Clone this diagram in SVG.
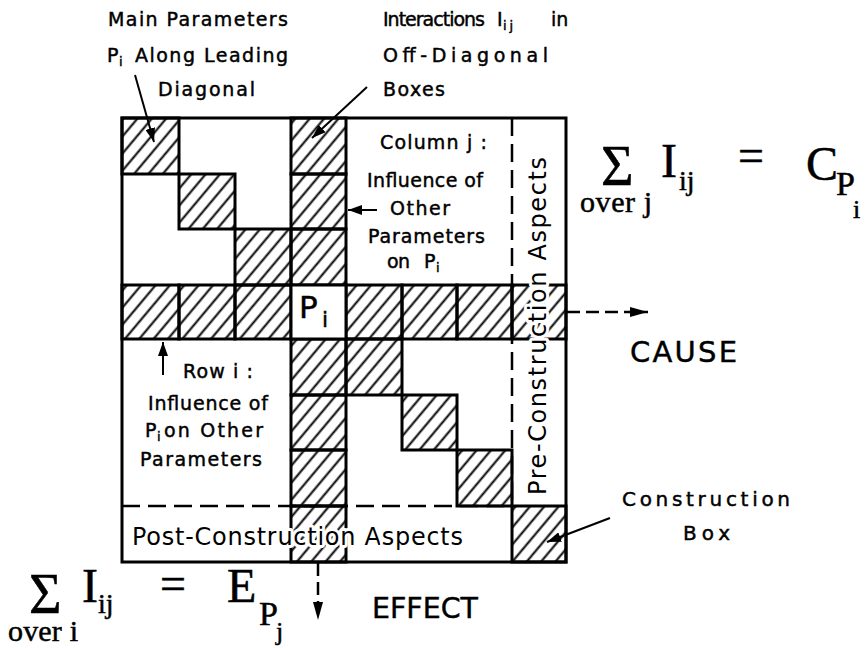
<svg xmlns="http://www.w3.org/2000/svg" width="867" height="648" viewBox="0 0 867 648">
<style>
.lbl{font-family:"DejaVu Sans","Liberation Sans",sans-serif;font-size:19px;fill:#000;stroke:#000;stroke-width:0.45}
.sub{font-size:13px}
.big{font-size:24px;stroke:#fff;stroke-width:6;paint-order:stroke;stroke-linejoin:round}
.huge{font-size:29px}
.math{font-family:"Liberation Serif","Times New Roman",serif;fill:#000;stroke:#000;stroke-width:0.5}
.cell{fill:url(#hatch);stroke:#000;stroke-width:3}
.pcell{fill:#fff;stroke:#000;stroke-width:3}
.dash{stroke:#000;stroke-width:2.5;stroke-dasharray:18 8;fill:none}
.conn{stroke:#000;stroke-width:2;fill:none}
.dconn{stroke:#000;stroke-width:2.5;fill:none;stroke-dasharray:13 6}
</style>
<defs>
<pattern id="hatch" patternUnits="userSpaceOnUse" width="11" height="11" patternTransform="rotate(40)">
<line x1="5.5" y1="-2" x2="5.5" y2="13" stroke="#000" stroke-width="2"/>
</pattern>
<marker id="ah" markerUnits="userSpaceOnUse" markerWidth="14" markerHeight="10" refX="14" refY="5" orient="auto">
<path d="M0,0 L14,5 L0,10 z" fill="#000"/>
</marker>
<marker id="ahb" markerUnits="userSpaceOnUse" markerWidth="18" markerHeight="10" refX="18" refY="5" orient="auto">
<path d="M0,0 L18,5 L0,10 z" fill="#000"/>
</marker>
</defs>
<rect width="867" height="648" fill="#fff"/>

<g id="matrix">
<line class="dash" x1="512" y1="118" x2="512" y2="506"/>
<line class="dash" x1="122" y1="506" x2="512" y2="506"/>
<rect x="122" y="118" width="444" height="444" fill="none" stroke="#000" stroke-width="3"/>
</g>

<g id="diagonal-cells">
<rect class="cell" x="122" y="118" width="57" height="56"/>
<rect class="cell" x="179" y="174" width="56" height="55"/>
<rect class="cell" x="235" y="229" width="56" height="56"/>
<rect class="cell" x="346" y="339" width="56" height="56"/>
<rect class="cell" x="402" y="395" width="55" height="55"/>
<rect class="cell" x="457" y="450" width="55" height="56"/>
</g>

<g id="column-j">
<rect class="cell" x="291" y="118" width="55" height="56"/>
<rect class="cell" x="291" y="174" width="55" height="55"/>
<rect class="cell" x="291" y="229" width="55" height="56"/>
<rect class="cell" x="291" y="339" width="55" height="56"/>
<rect class="cell" x="291" y="395" width="55" height="55"/>
<rect class="cell" x="291" y="450" width="55" height="56"/>
<rect class="cell" x="291" y="506" width="55" height="56"/>
</g>

<g id="row-i">
<rect class="cell" x="122" y="285" width="57" height="54"/>
<rect class="cell" x="179" y="285" width="56" height="54"/>
<rect class="cell" x="235" y="285" width="56" height="54"/>
<rect class="cell" x="346" y="285" width="56" height="54"/>
<rect class="cell" x="402" y="285" width="55" height="54"/>
<rect class="cell" x="457" y="285" width="55" height="54"/>
<rect class="cell" x="512" y="285" width="54" height="54"/>
</g>

<g id="construction-box">
<rect class="cell" x="512" y="506" width="54" height="56"/>
</g>

<g id="pi-cell">
<rect class="pcell" x="291" y="285" width="55" height="54"/>
<text class="lbl" x="299" y="318" style="font-size:31px">P</text>
<text class="lbl" x="322" y="327" style="font-size:22px">i</text>
</g>

<g id="aspects">
<text class="lbl big" x="132" y="545" textLength="331">Post-Construction Aspects</text>
<text class="lbl big" transform="translate(546,495) rotate(-90)" x="0" y="0" textLength="338">Pre-Construction Aspects</text>
</g>

<g id="label-main">
<text class="lbl" x="108" y="26" textLength="180">Main Parameters</text>
<text class="lbl" x="107" y="62">P</text>
<text class="lbl sub" x="119" y="66">i</text>
<text class="lbl" x="135" y="62" textLength="153">Along Leading</text>
<text class="lbl" x="158" y="96" textLength="97">Diagonal</text>
</g>

<g id="label-interactions">
<text class="lbl" x="383" y="26" textLength="102">Interactions</text>
<text class="lbl" x="497" y="26">I</text>
<text class="lbl sub" x="503" y="30" textLength="10">ij</text>
<text class="lbl" x="551" y="26">in</text>
<text class="lbl" x="383" y="62" textLength="165">Off-Diagonal</text>
<text class="lbl" x="383" y="96" textLength="62">Boxes</text>
</g>

<g id="label-column">
<text class="lbl" x="380" y="149" textLength="107">Column j :</text>
<text class="lbl" x="367" y="187" textLength="116">Influence of</text>
<text class="lbl" x="390" y="215" textLength="60">Other</text>
<text class="lbl" x="368" y="243" textLength="117">Parameters</text>
<text class="lbl" x="387" y="268" textLength="23">on</text>
<text class="lbl" x="424" y="268">P</text>
<text class="lbl sub" x="436" y="272">i</text>
</g>

<g id="label-row">
<text class="lbl" x="183" y="378" textLength="70">Row i :</text>
<text class="lbl" x="148" y="410" textLength="120">Influence of</text>
<text class="lbl" x="145" y="437">P</text>
<text class="lbl sub" x="157" y="441">i</text>
<text class="lbl" x="164" y="437" textLength="99">on Other</text>
<text class="lbl" x="140" y="466" textLength="122">Parameters</text>
</g>

<g id="label-cause">
<text class="lbl huge" x="630" y="362" textLength="107">CAUSE</text>
</g>
<g id="label-effect">
<text class="lbl huge" x="372" y="618" textLength="106" lengthAdjust="spacingAndGlyphs">EFFECT</text>
</g>
<g id="label-construction">
<text class="lbl" x="622" y="506" style="font-size:20px" textLength="168">Construction</text>
<text class="lbl" x="683" y="540" style="font-size:20px" textLength="47">Box</text>
</g>

<g id="formula-cause">
<text class="math" x="601" y="185" style="font-size:56px">Σ</text>
<text class="math" x="580" y="212" style="font-size:30px" textLength="72">over j</text>
<text class="math" x="661" y="177" style="font-size:48px">I</text>
<text class="math" x="679" y="190" style="font-size:28px">ij</text>
<text class="math" x="738" y="171" style="font-size:46px">=</text>
<text class="math" x="806" y="180" style="font-size:48px">C</text>
<text class="math" x="836" y="195" style="font-size:34px">P</text>
<text class="math" x="853" y="218" style="font-size:26px">i</text>
</g>

<g id="formula-effect">
<text class="math" x="29" y="613" style="font-size:56px">Σ</text>
<text class="math" x="8" y="641" style="font-size:30px" textLength="70">over i</text>
<text class="math" x="82" y="602" style="font-size:48px">I</text>
<text class="math" x="98" y="613" style="font-size:28px">ij</text>
<text class="math" x="160" y="599" style="font-size:46px">=</text>
<text class="math" x="227" y="602" style="font-size:48px">E</text>
<text class="math" x="259" y="625" style="font-size:34px">P</text>
<text class="math" x="276" y="640" style="font-size:26px">j</text>
</g>

<g id="connectors">
<line class="conn" x1="135" y1="75" x2="154" y2="142" marker-end="url(#ah)"/>
<line class="conn" x1="367" y1="87" x2="312" y2="138" marker-end="url(#ah)"/>
<line class="conn" x1="377" y1="210" x2="348" y2="210" marker-end="url(#ah)"/>
<line class="conn" x1="163" y1="375" x2="163" y2="342" marker-end="url(#ah)"/>
<line class="conn" x1="610" y1="518" x2="547" y2="542" marker-end="url(#ah)"/>
<line class="dconn" x1="567" y1="312" x2="648" y2="312" marker-end="url(#ahb)"/>
<line class="dconn" x1="318" y1="563" x2="318" y2="620" marker-end="url(#ahb)"/>
</g>
</svg>
